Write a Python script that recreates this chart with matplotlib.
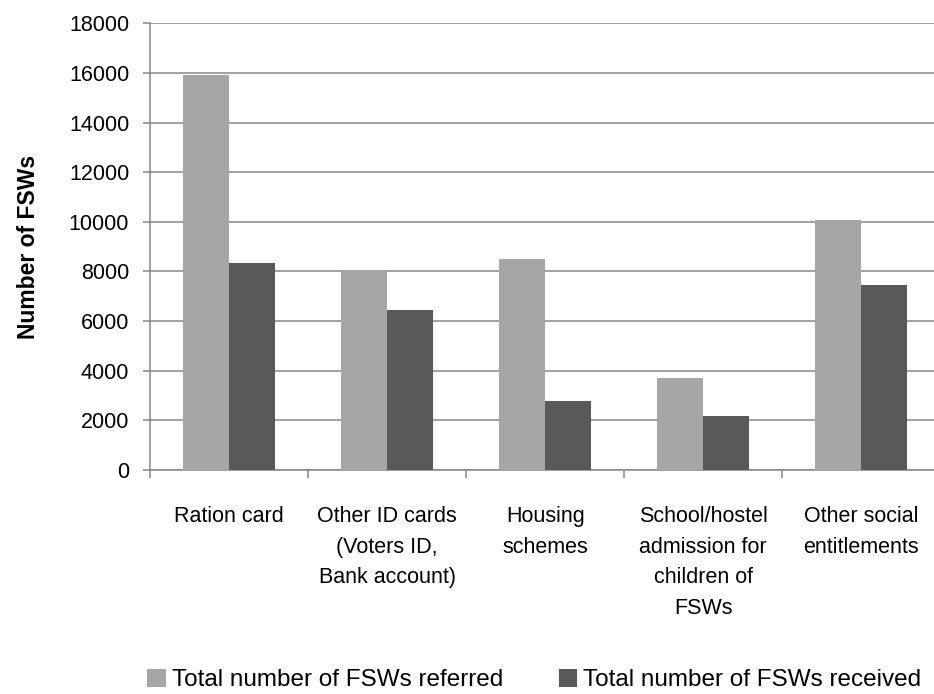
import numpy as np
import matplotlib
matplotlib.use("Agg")
from matplotlib import pyplot as plt

categories = ["Ration card", "Other ID cards\n(Voters ID,\nBank account)", "Housing\nschemes",
              "School/hostel\nadmission for\nchildren of\nFSWs", "Other social\nentitlements"]
referred = [15900, 8050, 8520, 3700, 10090]
received = [8350, 6430, 2780, 2190, 7460]
series_names = ["Total number of FSWs referred", "Total number of FSWs received"]
yticks = [0, 2000, 4000, 6000, 8000, 10000, 12000, 14000, 16000, 18000]

plt.rcParams['font.family'] = ['Liberation Sans', 'DejaVu Sans']
grey_line = '#868686'

fig = plt.figure(figsize=(9.34, 6.94), dpi=100)
ax = fig.add_axes([150/934, 1-470/694, 1-150/934, (470-23.3)/694])

x = np.arange(len(categories))
w = 0.29
ax.bar(x - w/2, referred, w, color='#A6A6A6', label=series_names[0], zorder=3)
ax.bar(x + w/2, received, w, color='#595959', label=series_names[1], zorder=3)

ax.set_ylim(0, 18000)
ax.set_xlim(-0.5, 4.46)
ax.set_yticks(yticks)
ax.set_yticklabels([str(v) for v in yticks], fontsize=15.5)
ax.yaxis.grid(True, color=grey_line, linewidth=1.1, zorder=0)
ax.set_axisbelow(True)

# category boundaries as major ticks, labels on minor ticks
ax.set_xticks(np.arange(-0.5, 4.5, 1.0))
ax.set_xticklabels([])
ax.set_xticks(x, minor=True)
ax.set_xticklabels(categories, minor=True, fontsize=15.5, linespacing=1.6)
ax.tick_params(axis='x', which='major', length=6, width=1.1, color=grey_line, direction='out')
ax.tick_params(axis='x', which='minor', length=0, pad=26)
ax.tick_params(axis='y', length=5, width=1.1, color=grey_line, pad=10)

for s in ['top', 'right']:
    ax.spines[s].set_visible(False)
for s in ['left', 'bottom']:
    ax.spines[s].set_color(grey_line)
    ax.spines[s].set_linewidth(1.1)

ax.set_ylabel("Number of FSWs", fontsize=16.5, fontweight='bold', labelpad=21)

fig.legend(loc='center', bbox_to_anchor=(0.572, 1-680/694), ncol=2, frameon=False,
           fontsize=17.5, handlelength=0.75, handleheight=0.75, handletextpad=0.25,
           columnspacing=2.3, borderpad=0, borderaxespad=0)

fig.savefig("out.png", dpi=100)
